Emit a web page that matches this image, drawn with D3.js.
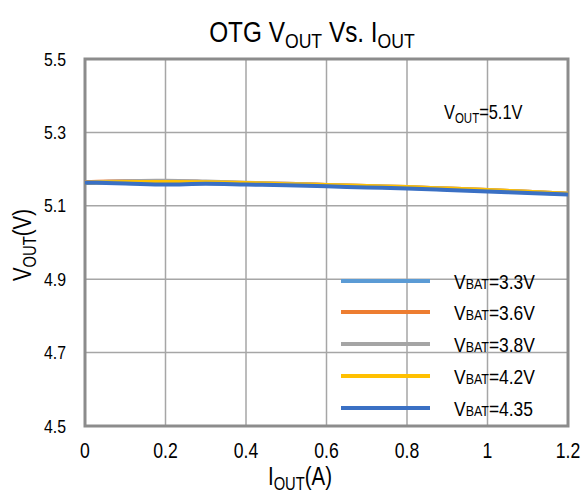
<!DOCTYPE html>
<html>
<head>
<meta charset="utf-8">
<script src="https://cdn.jsdelivr.net/npm/d3@7"></script>
<style>
  body { margin: 0; background: #fff; }
  text { font-family: "Liberation Sans", Arial, sans-serif; fill: #000; }
</style>
</head>
<body>
<script>
// load current (A)
var iout = [0, 0.1, 0.2, 0.3, 0.4, 0.5, 0.6, 0.7, 0.8, 0.9, 1.0, 1.1, 1.2];
var vbat33  = [5.164, 5.165, 5.163, 5.162, 5.160, 5.158, 5.155, 5.152, 5.149, 5.145, 5.141, 5.137, 5.132];
var vbat36  = [5.164, 5.167, 5.167, 5.165, 5.162, 5.160, 5.157, 5.154, 5.151, 5.147, 5.143, 5.138, 5.133];
var vbat38  = [5.163, 5.167, 5.168, 5.166, 5.163, 5.160, 5.157, 5.154, 5.151, 5.147, 5.143, 5.138, 5.133];
var vbat42  = [5.163, 5.165, 5.165, 5.164, 5.162, 5.159, 5.157, 5.154, 5.151, 5.147, 5.143, 5.138, 5.133];
var vbat435 = [5.163, 5.161, 5.158, 5.160, 5.158, 5.156, 5.153, 5.150, 5.147, 5.143, 5.139, 5.135, 5.131];
var xTicks = [0, 0.2, 0.4, 0.6, 0.8, 1, 1.2];
var yTicks = [4.5, 4.7, 4.9, 5.1, 5.3, 5.5];
var seriesNames = ["3.3V", "3.6V", "3.8V", "4.2V", "4.35"];
var seriesColors = ["#5b9bd5", "#ed7d31", "#a5a5a5", "#ffc000", "#3a70c4"];
var seriesData = [vbat33, vbat36, vbat38, vbat42, vbat435];

var w = 583, h = 494;
var pLeft = 85, pRight = 568, pTop = 59, pBottom = 426;

var svg = d3.select("body").append("svg")
  .attr("width", w)
  .attr("height", h);

var x = d3.scaleLinear().domain([0, 1.2]).range([pLeft, pRight]);
var y = d3.scaleLinear().domain([4.5, 5.5]).range([pBottom, pTop]);

// narrow text: the original uses a condensed font, squeeze it horizontally
function ntext(parent, tx, ty, size, sx, anchor, rot) {
  var tr = "translate(" + tx + "," + ty + ")" + (rot ? " rotate(" + rot + ")" : "") + " scale(" + sx + ",1)";
  return parent.append("g").attr("transform", tr)
    .append("text")
    .attr("font-size", size)
    .attr("text-anchor", anchor || "start");
}

// grid
svg.append("g")
  .selectAll("line")
  .data(xTicks)
  .enter().append("line")
  .attr("x1", d => x(d)).attr("x2", d => x(d))
  .attr("y1", pTop).attr("y2", pBottom)
  .attr("stroke", "#a6a6a6").attr("stroke-width", 1.5);

svg.append("g")
  .selectAll("line")
  .data(yTicks)
  .enter().append("line")
  .attr("x1", pLeft).attr("x2", pRight)
  .attr("y1", d => y(d)).attr("y2", d => y(d))
  .attr("stroke", "#a6a6a6").attr("stroke-width", 1.5);

// frame
svg.append("rect")
  .attr("x", pLeft).attr("y", pTop)
  .attr("width", pRight - pLeft).attr("height", pBottom - pTop)
  .attr("fill", "none").attr("stroke", "#8c8c8c").attr("stroke-width", 3);

// tick labels
yTicks.forEach(function(d) {
  ntext(svg, 66, y(d) + 6.5, 18, 0.88, "end").text(d.toFixed(1));
});
xTicks.forEach(function(d) {
  ntext(svg, x(d), 458, 22, 0.8, "middle").text(d);
});

// curves
var line = d3.line()
  .x((d, i) => x(iout[i]))
  .y(d => y(d))
  .curve(d3.curveMonotoneX);

svg.append("g").selectAll("path")
  .data(seriesData)
  .enter().append("path")
  .attr("d", d => line(d))
  .attr("fill", "none")
  .attr("stroke", (d, i) => seriesColors[i])
  .attr("stroke-width", 4);

// legend
var legY = [281, 312, 344, 376, 408];
seriesNames.forEach(function(name, i) {
  svg.append("line")
    .attr("x1", 341).attr("x2", 430)
    .attr("y1", legY[i]).attr("y2", legY[i])
    .attr("stroke", seriesColors[i])
    .attr("stroke-width", 4);
  var lt = ntext(svg, 454, legY[i] + 8, 21, 0.83, "start");
  lt.append("tspan").text("V");
  lt.append("tspan").attr("font-size", 15).text("BAT");
  lt.append("tspan").text("=" + name);
});

// annotation
var ann = ntext(svg, 444, 119, 20, 0.82, "start");
ann.append("tspan").text("V");
ann.append("tspan").attr("font-size", 14).attr("dy", 4).text("OUT");
ann.append("tspan").attr("dy", -4).text("=5.1V");

// title
var title = ntext(svg, 312, 42, 29, 0.84, "middle");
title.append("tspan").text("OTG V");
title.append("tspan").attr("font-size", 21).attr("dy", 6).text("OUT");
title.append("tspan").attr("dy", -6).text(" Vs. I");
title.append("tspan").attr("font-size", 21).attr("dy", 6).text("OUT");

// x axis title
var xt = ntext(svg, 300, 485, 25, 0.82, "middle");
xt.append("tspan").text("I");
xt.append("tspan").attr("font-size", 18).attr("dy", 5).text("OUT");
xt.append("tspan").attr("dy", -5).text("(A)");

// y axis title
var yt = ntext(svg, 31, 245, 25, 0.82, "middle", -90);
yt.append("tspan").text("V");
yt.append("tspan").attr("font-size", 18).attr("dy", 5).text("OUT");
yt.append("tspan").attr("dy", -5).text("(V)");
</script>
</body>
</html>
